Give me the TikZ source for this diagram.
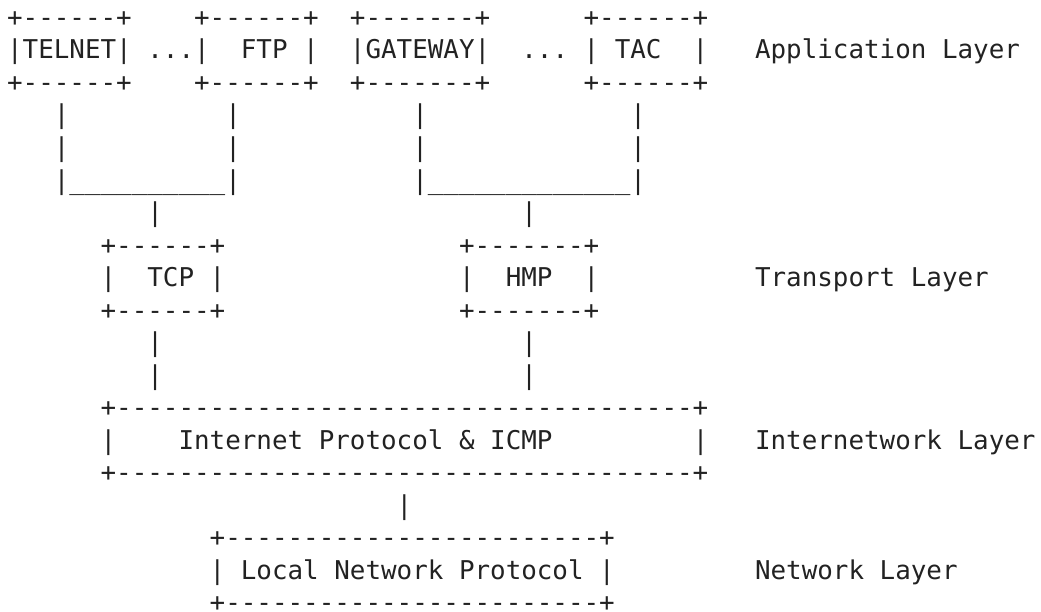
\documentclass[tikz,border=0pt]{standalone}
\usepackage{fontspec}
\usepackage{xcolor}
\newfontfamily\asciifont{DejaVu Sans Mono}
\definecolor{ink}{HTML}{222222}
\frenchspacing

\begin{document}
\begin{tikzpicture}[x=11.685pt, y=-24.375pt,
    ascii/.style={anchor=base west, inner sep=0pt, text=ink,
        font=\asciifont\fontsize{19.41pt}{24.375pt}\selectfont}]
    \useasboundingbox (-0.443,-0.815) rectangle (66.37,17.985);

    % application layer
    \node[ascii] (telnet-top) at (0,0) {+------+};
    \node[ascii] (ftp-top) at (12,0) {+------+};
    \node[ascii] (gateway-top) at (22,0) {+-------+};
    \node[ascii] (tac-top) at (37,0) {+------+};
    \node[ascii] (telnet) at (0,1) {|TELNET|};
    \node[ascii] (dots1) at (9,1) {...};
    \node[ascii] (ftp) at (12,1) {|~~FTP~|};
    \node[ascii] (gateway) at (22,1) {|GATEWAY|};
    \node[ascii] (dots2) at (33,1) {...};
    \node[ascii] (tac) at (37,1) {|~TAC~~|};
    \node[ascii] (app layer) at (48,1) {Application Layer};
    \node[ascii] (telnet-bot) at (0,2) {+------+};
    \node[ascii] (ftp-bot) at (12,2) {+------+};
    \node[ascii] (gateway-bot) at (22,2) {+-------+};
    \node[ascii] (tac-bot) at (37,2) {+------+};

    % joins down to the transport layer
    \node[ascii] (w1a) at (3,3) {|};
    \node[ascii] (w2a) at (14,3) {|};
    \node[ascii] (w3a) at (26,3) {|};
    \node[ascii] (w4a) at (40,3) {|};
    \node[ascii] (w1b) at (3,4) {|};
    \node[ascii] (w2b) at (14,4) {|};
    \node[ascii] (w3b) at (26,4) {|};
    \node[ascii] (w4b) at (40,4) {|};
    \node[ascii] (join-tcp) at (3,5) {|\_\_\_\_\_\_\_\_\_\_|};
    \node[ascii] (join-hmp) at (26,5) {|\_\_\_\_\_\_\_\_\_\_\_\_\_|};
    \node[ascii] (w5) at (9,6) {|};
    \node[ascii] (w6) at (33,6) {|};

    % transport layer
    \node[ascii] (tcp-top) at (6,7) {+------+};
    \node[ascii] (hmp-top) at (29,7) {+-------+};
    \node[ascii] (tcp) at (6,8) {|~~TCP~|};
    \node[ascii] (hmp) at (29,8) {|~~HMP~~|};
    \node[ascii] (transport layer) at (48,8) {Transport Layer};
    \node[ascii] (tcp-bot) at (6,9) {+------+};
    \node[ascii] (hmp-bot) at (29,9) {+-------+};
    \node[ascii] (w7a) at (9,10) {|};
    \node[ascii] (w8a) at (33,10) {|};
    \node[ascii] (w7b) at (9,11) {|};
    \node[ascii] (w8b) at (33,11) {|};

    % internetwork layer
    \node[ascii] (ip-top) at (6,12) {+-------------------------------------+};
    \node[ascii] (ip) at (6,13) {|~~~~Internet Protocol \& ICMP~~~~~~~~~|};
    \node[ascii] (internet layer) at (48,13) {Internetwork Layer};
    \node[ascii] (ip-bot) at (6,14) {+-------------------------------------+};
    \node[ascii] (w9) at (25,15) {|};

    % network layer
    \node[ascii] (lnp-top) at (13,16) {+------------------------+};
    \node[ascii] (lnp) at (13,17) {|~Local Network Protocol~|};
    \node[ascii] (net layer) at (48,17) {Network Layer};
    \node[ascii] (lnp-bot) at (13,18) {+------------------------+};
\end{tikzpicture}
\end{document}
